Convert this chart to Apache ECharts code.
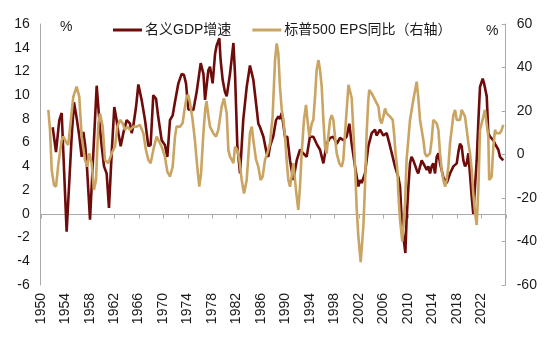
<!DOCTYPE html>
<html><head><meta charset="utf-8">
<script src="https://cdn.jsdelivr.net/npm/echarts@6/dist/echarts.min.js"></script>
<style>html,body{margin:0;padding:0;background:#fff}#c{width:550px;height:339px}</style>
</head><body><div id="c"></div>
<script>
const seriesNames = ['名义GDP增速', '标普500 EPS同比（右轴）'];
const gdpYears = [1951.96,1952.5,1953.04,1953.43,1954.24,1955.06,1955.44,1955.9,1956.32,1956.7,1956.97,1957.24,1957.5,1958.06,1958.6,1959.15,1959.7,1959.97,1960.35,1960.78,1961.16,1961.6,1962.03,1962.4,1962.7,1963.07,1963.5,1964.05,1964.6,1964.87,1965.1,1965.58,1965.96,1966.5,1967.05,1967.6,1967.97,1968.4,1968.85,1969.2,1969.77,1970.3,1970.7,1971.13,1971.57,1971.95,1972.2,1972.5,1973.04,1973.42,1973.75,1974.13,1974.4,1974.95,1975.5,1976.15,1976.6,1976.86,1977.4,1977.67,1978.1,1978.5,1978.76,1979.2,1979.4,1979.74,1980.1,1980.4,1980.94,1981.5,1981.76,1982.14,1982.58,1983.1,1983.67,1984.2,1984.75,1985.2,1985.57,1985.85,1986.4,1986.93,1987.2,1987.48,1988.0,1988.46,1988.84,1989.1,1989.4,1989.93,1990.3,1990.75,1991.29,1991.84,1992.38,1992.93,1993.47,1994.0,1994.56,1995.1,1995.65,1996.2,1996.74,1997.3,1997.83,1998.38,1998.92,1999.46,2000.0,2000.44,2000.83,2001.37,2001.92,2002.2,2002.46,2003.0,2003.55,2004.1,2004.64,2004.9,2005.46,2006.0,2006.55,2007.1,2007.53,2007.9,2008.45,2008.73,2009.0,2009.27,2009.6,2009.8,2010.1,2010.36,2010.6,2010.9,2011.45,2011.7,2012.27,2012.54,2013.1,2013.36,2013.63,2013.9,2014.17,2014.45,2014.72,2015.0,2015.27,2015.8,2016.36,2016.9,2017.45,2018.0,2018.26,2018.53,2018.8,2019.08,2019.35,2019.63,2019.9,2020.45,2020.7,2021.0,2021.26,2021.54,2021.8,2022.24,2022.46,2022.9,2023.16,2023.44,2023.7,2023.98,2024.25,2024.5,2024.8,2025.07,2025.6];
const gdpValues = [7.3,5.2,7.9,8.5,-1.5,6.5,9.4,8.0,6.5,4.8,6.9,5.9,4.5,-0.5,5.1,10.8,7.1,5.7,4.0,3.4,0.5,5.1,9.0,7.9,6.8,5.7,6.8,7.9,7.6,6.8,7.3,9.0,10.9,9.6,7.9,5.7,5.8,10.0,9.7,8.2,6.2,5.8,4.8,7.9,8.3,9.45,9.6,11.0,11.8,11.7,11.0,8.8,8.75,8.75,10.3,12.7,11.8,9.6,12.1,12.4,11.0,13.5,14.2,14.8,13.0,11.3,10.3,9.9,11.8,14.4,11.8,5.7,3.4,7.9,10.7,12.5,11.3,9.3,7.6,7.3,6.5,5.1,4.8,5.7,6.5,7.9,8.2,8.0,8.5,6.5,6.5,4.5,2.85,4.5,5.4,5.1,4.8,6.5,6.5,5.9,5.4,4.25,5.9,6.4,6.5,5.9,6.4,6.2,6.5,7.6,5.9,4.0,2.3,2.85,2.6,3.4,5.7,6.8,7.1,6.6,7.1,6.6,6.8,5.7,4.8,4.0,3.1,2.3,-0.5,-1.9,-3.3,-0.5,2.3,4.25,4.8,4.5,3.7,3.4,4.5,4.25,3.7,4.0,3.4,4.0,4.25,3.4,4.8,5.1,4.25,3.1,2.6,3.4,4.0,4.25,5.2,5.9,5.7,4.5,4.0,4.25,5.1,1.4,0.0,-0.1,4.5,7.9,10.7,11.4,11.0,9.9,6.8,6.5,6.6,6.2,5.9,5.8,5.4,4.8,4.5];
const epsYears = [1951.25,1951.52,1951.8,1952.17,1952.5,1952.9,1953.43,1953.7,1954.13,1954.5,1954.8,1955.33,1955.87,1956.3,1956.7,1957.24,1957.6,1957.95,1958.33,1958.7,1959.04,1959.42,1959.7,1960.13,1960.5,1961.05,1961.6,1962.14,1962.52,1962.96,1963.4,1963.77,1964.16,1964.6,1965.14,1965.68,1966.23,1966.77,1967.2,1967.6,1967.97,1968.4,1968.95,1969.2,1969.77,1970.3,1970.7,1971.13,1971.57,1971.95,1972.2,1972.77,1973.2,1973.5,1973.85,1974.1,1974.4,1974.8,1975.2,1975.6,1975.92,1976.2,1976.58,1976.9,1977.1,1977.4,1977.67,1978.2,1978.65,1979.03,1979.58,1979.96,1980.4,1980.67,1980.94,1981.5,1981.76,1982.14,1982.47,1982.85,1983.24,1983.67,1984.2,1984.5,1984.75,1985.2,1985.57,1985.95,1986.28,1986.66,1987.04,1987.48,1987.9,1988.3,1988.57,1988.84,1989.1,1989.4,1989.67,1989.93,1990.2,1990.47,1990.75,1991.0,1991.29,1991.56,1991.84,1992.1,1992.38,1992.65,1993.03,1993.36,1993.6,1993.9,1994.3,1994.56,1994.84,1995.1,1995.4,1995.65,1995.93,1996.2,1996.47,1996.74,1997.0,1997.3,1997.56,1997.83,1998.1,1998.38,1998.8,1999.2,1999.46,1999.74,2000.0,2000.3,2000.5,2000.83,2001.1,2001.37,2001.65,2001.92,2002.3,2002.73,2003.0,2003.27,2003.55,2003.7,2004.1,2004.64,2005.2,2005.46,2005.73,2006.0,2006.28,2006.55,2007.1,2007.53,2007.75,2008.0,2008.3,2008.45,2008.73,2009.1,2009.55,2009.8,2010.36,2010.9,2011.45,2011.7,2012.0,2012.54,2012.8,2013.1,2013.36,2013.63,2013.9,2014.17,2014.72,2015.0,2015.27,2015.54,2015.8,2016.1,2016.36,2016.63,2016.9,2017.45,2017.72,2018.0,2018.53,2018.8,2019.08,2019.35,2019.63,2019.9,2020.17,2020.45,2020.7,2021.0,2021.26,2021.54,2021.8,2022.07,2022.34,2022.6,2022.9,2023.16,2023.3,2023.7,2023.98,2024.25,2024.5,2024.8,2025.07,2025.34,2025.6];
const epsValues = [20.5,11.3,-7.1,-14.0,-14.8,-4.0,6.7,8.2,5.9,4.4,3.6,26.6,31.2,26.6,8.2,-2.5,-5.6,0.5,-4.0,-16.3,-11.7,14.3,18.9,12.8,-2.5,-4.0,0.5,3.6,12.8,15.9,14.3,11.3,12.8,11.3,12.8,12.8,13.6,9.8,2.1,-2.5,-4.0,2.1,8.2,8.2,3.6,-1.0,-7.9,-10.2,-5.6,8.2,12.8,12.8,14.5,20.5,26.5,27.5,23.8,16.5,6.7,-6.0,-14.8,-9.0,9.5,21.0,24.5,18.0,12.8,9.8,8.2,11.3,22.0,25.8,18.9,2.1,-1.0,-4.0,3.6,2.1,-2.5,-11.7,-17.9,-11.7,9.8,12.8,6.7,-2.5,-5.6,-11.7,-10.2,-2.5,0.5,5.1,17.4,43.4,51.1,46.5,31.2,20.5,15.9,8.2,-2.5,-11.7,-14.8,-10.2,-4.0,-11.7,-19.4,-25.5,-14.8,0.5,15.9,22.8,15.9,8.2,14.3,15.9,26.6,38.9,43.4,38.9,31.2,15.9,3.6,0.5,8.2,15.9,18.1,15.9,8.2,0.5,-4.0,-5.6,-2.5,9.8,20.0,32.0,32.7,26.0,11.3,-5.0,-25.0,-37.8,-49.5,-33.2,-14.8,9.8,25.1,29.7,28.1,25.1,22.0,15.9,14.3,17.4,21.2,18.9,17.4,15.9,9.8,0.5,-7.1,-17.9,-30.1,-40.0,-22.4,-2.5,15.9,25.1,33.5,26.6,15.9,6.7,0.5,-1.0,-1.0,0.5,6.7,15.9,14.3,11.3,0.5,-7.1,-11.7,-14.8,-11.7,-5.6,5.1,18.1,20.5,15.9,15.9,20.5,21.2,17.4,11.3,5.1,0.5,-7.1,-17.9,-27.0,-32.4,-14.8,11.3,14.3,17.4,20.5,21.2,8.2,-11.7,-10.2,3.6,11.3,9.8,9.0,9.8,11.3,13.6];
const leftMin = -6, leftMax = 16, leftStep = 2;
const rightMin = -60, rightMax = 60, rightStep = 20;
const xMin = 1950, xMax = 2026, xStep = 4;

const FONT = 'Arial, "Liberation Sans", "Noto Sans CJK SC", sans-serif';
const TXT = '#1a1a1a';
const AX = '#aaaaaa';
const RED = '#6E0B0B';
const TAN = '#C9A462';

const gdpData = gdpYears.map((y, i) => [y, gdpValues[i]]);
const epsData = epsYears.map((y, i) => [y, epsValues[i]]);

const chart = echarts.init(document.getElementById('c'));
chart.setOption({
  animation: false,
  textStyle: { fontFamily: FONT },
  grid: { left: 40.7, right: 44.3, top: 24, bottom: 54, containLabel: false },
  legend: {
    left: 113, top: 23, padding: 0, itemWidth: 29, itemHeight: 3, itemGap: 21, icon: 'rect',
    textStyle: { fontSize: 14, color: TXT, fontFamily: FONT, padding: [0, 0, 0, -2] },
    data: seriesNames
  },
  xAxis: [
    { type: 'value', min: xMin, max: xMax, interval: xStep, position: 'bottom',
      axisLine: { show: false, onZero: false }, axisTick: { show: false }, splitLine: { show: false },
      axisLabel: { rotate: 90, margin: 8, fontSize: 14, color: TXT, fontFamily: FONT,
        formatter: v => (v >= xMax ? '' : String(v)) } }
  ],
  yAxis: [
    { type: 'value', min: leftMin, max: leftMax, interval: leftStep, position: 'left',
      axisLine: { show: true, onZero: false, lineStyle: { color: AX } }, axisTick: { show: false },
      splitLine: { show: false },
      axisLabel: { margin: 11, fontSize: 14, color: TXT, fontFamily: FONT } },
    { type: 'value', min: rightMin, max: rightMax, interval: rightStep, position: 'right',
      axisLine: { show: true, onZero: false, lineStyle: { color: AX } },
      axisTick: { show: true, inside: true, length: 4, lineStyle: { color: AX } },
      splitLine: { show: false },
      axisLabel: { margin: 11, fontSize: 14, color: TXT, fontFamily: FONT } }
  ],
  series: [
    { name: seriesNames[0], type: 'line', xAxisIndex: 0, yAxisIndex: 0, data: gdpData, z: 3,
      symbol: 'none', showSymbol: false, lineStyle: { color: RED, width: 2.6 }, itemStyle: { color: RED } },
    { name: seriesNames[1], type: 'line', xAxisIndex: 0, yAxisIndex: 1, data: epsData, z: 4,
      symbol: 'none', showSymbol: false, lineStyle: { color: TAN, width: 2.6 }, itemStyle: { color: TAN } }
  ]
});

// zero baseline of the left scale with downward ticks at each x tick, positioned through the chart's own scales
const finder = { xAxisIndex: 0, yAxisIndex: 0 };
const p0 = chart.convertToPixel(finder, [xMin, 0]);
const p1 = chart.convertToPixel(finder, [xMax, 0]);
const zy = Math.round(p0[1]) + 0.5;
const elements = [
  { type: 'text', left: 60, top: 20, style: { text: '%', font: '14px ' + FONT, fill: TXT } },
  { type: 'text', left: 486, top: 24, style: { text: '%', font: '14px ' + FONT, fill: TXT } },
  { type: 'line', z: 1, silent: true, shape: { x1: p0[0], y1: zy, x2: p1[0], y2: zy },
    style: { stroke: AX, lineWidth: 1.2 } }
];
for (let t = xMin; t <= xMax; t += xStep) {
  const px = Math.round(chart.convertToPixel(finder, [t, 0])[0]) + 0.5;
  elements.push({ type: 'line', z: 1, silent: true, shape: { x1: px, y1: zy, x2: px, y2: zy + 4 },
    style: { stroke: AX, lineWidth: 1 } });
}
chart.setOption({ graphic: elements });
</script></body></html>
